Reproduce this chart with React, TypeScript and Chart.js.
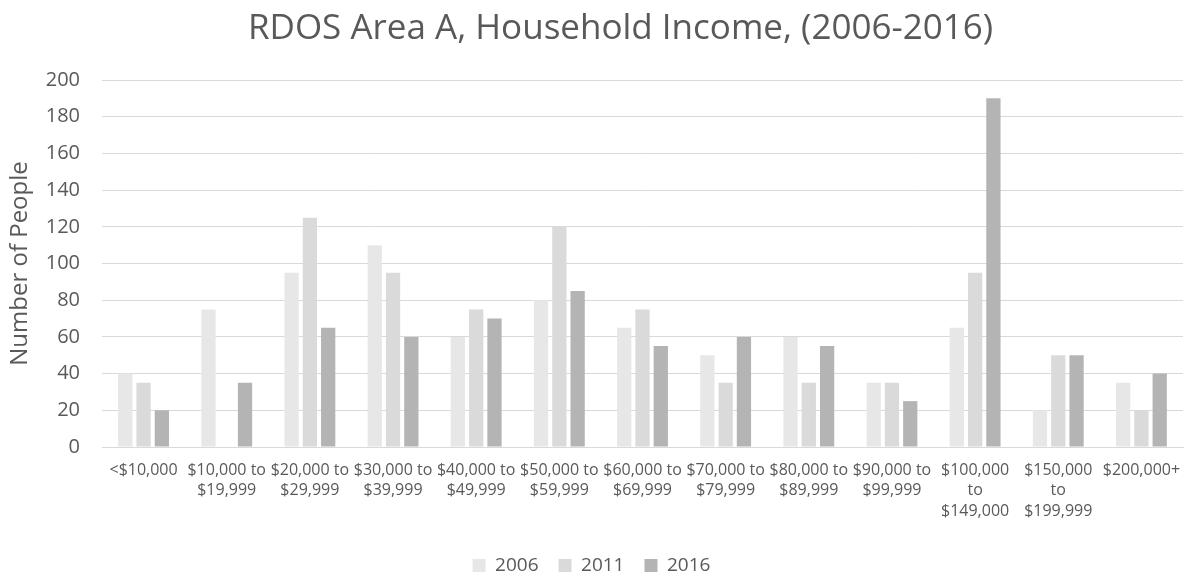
import React, { useEffect, useRef } from "react";
import { Chart, registerables } from "chart.js";

Chart.register(...registerables);

const categories: (string | string[])[] = [
  "<$10,000",
  ["$10,000 to", "$19,999"],
  ["$20,000 to", "$29,999"],
  ["$30,000 to", "$39,999"],
  ["$40,000 to", "$49,999"],
  ["$50,000 to", "$59,999"],
  ["$60,000 to", "$69,999"],
  ["$70,000 to", "$79,999"],
  ["$80,000 to", "$89,999"],
  ["$90,000 to", "$99,999"],
  ["$100,000", "to", "$149,000"],
  ["$150,000", "to", "$199,999"],
  "$200,000+",
];

const values2006 = [40, 75, 95, 110, 60, 80, 65, 50, 60, 35, 65, 20, 35];
const values2011 = [35, 0, 125, 95, 75, 120, 75, 35, 35, 35, 95, 50, 20];
const values2016 = [20, 35, 65, 60, 70, 85, 55, 60, 55, 25, 190, 50, 40];

const seriesLabels = ["2006", "2011", "2016"];
const yTicks = [0, 20, 40, 60, 80, 100, 120, 140, 160, 180, 200];

const FONT = "'Open Sans', sans-serif";
const TEXT = "#595959";

const shiftTitle = {
  id: "shiftTitle",
  afterLayout(chart: any) {
    const t = chart.titleBlock;
    if (t) {
      t.left = 58;
      t.width = t.right - t.left;
    }
  },
};

export default function App() {
  const ref = useRef<HTMLCanvasElement>(null);
  useEffect(() => {
    if (!ref.current) return;
    const chart = new Chart(ref.current, {
      type: "bar",
      data: {
        labels: categories,
        datasets: [
          { label: seriesLabels[0], data: values2006, backgroundColor: "#e7e7e7" },
          { label: seriesLabels[1], data: values2011, backgroundColor: "#dadada" },
          { label: seriesLabels[2], data: values2016, backgroundColor: "#b4b4b4" },
        ],
      },
      plugins: [shiftTitle],
      options: {
        animation: false,
        responsive: true,
        maintainAspectRatio: false,
        layout: { padding: { left: 0, right: 6, top: 0, bottom: -9 } },
        datasets: { bar: { categoryPercentage: 0.66, barPercentage: 0.78 } },
        plugins: {
          title: {
            display: true,
            text: "RDOS Area A, Household Income, (2006-2016)",
            color: TEXT,
            font: { family: FONT, size: 35, weight: "normal", lineHeight: 1.2 },
            padding: { top: 8, bottom: 30 },
          },
          legend: {
            position: "bottom",
            labels: {
              color: TEXT,
              font: { family: FONT, size: 19 },
              boxWidth: 13,
              boxHeight: 13,
              padding: 20,
            },
          },
          tooltip: { enabled: false },
        },
        scales: {
          x: {
            grid: { display: false, drawTicks: false },
            border: { color: "#d9d9d9", width: 1 },
            ticks: {
              color: TEXT,
              font: { family: FONT, size: 16, lineHeight: 1.28 },
              maxRotation: 0,
              minRotation: 0,
              autoSkip: false,
              padding: 13,
            },
            afterFit: (s: any) => {
              s.height = 89;
              s.paddingLeft = 0;
              s.paddingRight = 0;
            },
          },
          y: {
            min: 0,
            max: 200,
            afterBuildTicks: (s: any) => {
              s.ticks = yTicks.map((v) => ({ value: v }));
            },
            grid: { color: "#d9d9d9", lineWidth: 1, drawTicks: false },
            border: { display: false },
            ticks: {
              color: TEXT,
              font: { family: FONT, size: 20 },
              padding: 22,
            },
            title: {
              display: true,
              text: "Number of People",
              color: TEXT,
              font: { family: FONT, size: 24 },
              padding: 6,
            },
            afterFit: (s: any) => {
              s.width = 102;
            },
          },
        },
      },
    });
    return () => chart.destroy();
  }, []);
  return (
    <div style={{ position: "fixed", left: 0, top: 0, width: 1189, height: 576, background: "#fff" }}>
      <canvas ref={ref} />
    </div>
  );
}
